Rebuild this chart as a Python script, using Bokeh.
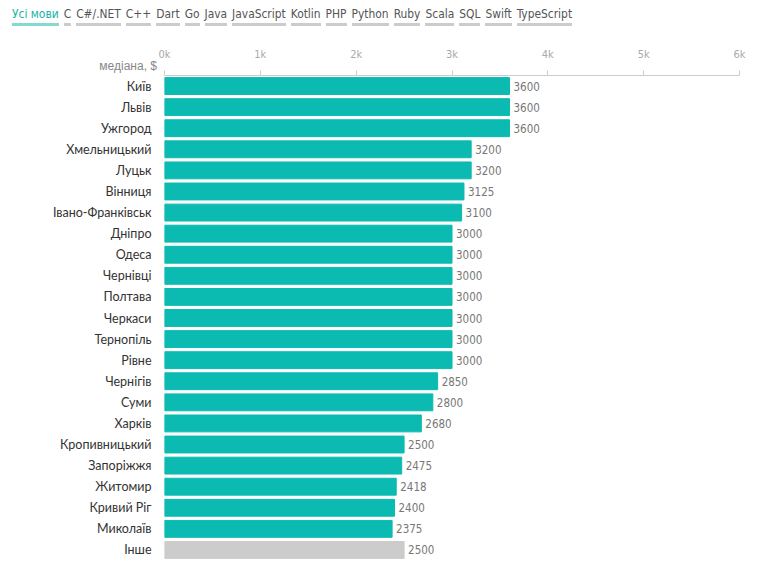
from bokeh.plotting import figure
from bokeh.models import (FactorRange, Range1d, FixedTicker, Div, ColumnDataSource)
from bokeh.layouts import column
from bokeh.core.properties import value
from bokeh.embed import file_html
from bokeh.resources import INLINE

languages = ["Усі мови", "C", "C#/.NET", "C++", "Dart", "Go", "Java", "JavaScript", "Kotlin",
             "PHP", "Python", "Ruby", "Scala", "SQL", "Swift", "TypeScript"]
cities = ["Київ", "Львів", "Ужгород", "Хмельницький", "Луцьк", "Вінниця", "Івано-Франківськ",
          "Дніпро", "Одеса", "Чернівці", "Полтава", "Черкаси", "Тернопіль", "Рівне", "Чернігів",
          "Суми", "Харків", "Кропивницький", "Запоріжжя", "Житомир", "Кривий Ріг", "Миколаїв", "Інше"]
salaries = [3600, 3600, 3600, 3200, 3200, 3125, 3100, 3000, 3000, 3000, 3000, 3000, 3000, 3000,
            2850, 2800, 2680, 2500, 2475, 2418, 2400, 2375, 2500]
tick_values = [0, 1000, 2000, 3000, 4000, 5000, 6000]
tick_labels = ["0k", "1k", "2k", "3k", "4k", "5k", "6k"]
axis_title = "медіана, $"

TEAL = "#0bbab0"
GREY = "#cccccc"
colors = [GREY if c == "Інше" else TEAL for c in cities]

COND = "DejaVu Sans Condensed"
spans = []
for i, lang in enumerate(languages):
    if i == 0:
        st = "color:#19b3a6;border-bottom:3px solid #86d9d0;"
    else:
        st = "color:#555555;border-bottom:3px solid #cccccc;"
    spans.append(f'<span style="{st}margin-right:5px;padding-bottom:2px;">{lang}</span>')
title_html = (f'<span style="position:absolute;left:0px;top:58px;width:157px;text-align:right;'
              f'font-family:\'Liberation Sans\',sans-serif;font-size:12px;color:#888888;">'
              f'{axis_title}</span>')
nav = Div(text="".join(spans) + title_html, width=757, height=38, margin=(0, 0, 0, 0),
          styles={"font-family": f"'{COND}', sans-serif", "font-size": "11.9px",
                  "padding-left": "12px", "padding-top": "6px", "white-space": "nowrap",
                  "overflow": "visible", "position": "relative", "z-index": "5"})

src = ColumnDataSource(dict(city=cities, salary=salaries, color=colors,
                            label=[str(v) for v in salaries]))

p = figure(width=757, height=527, output_backend="svg", toolbar_location=None,
           y_range=FactorRange(factors=cities[::-1], range_padding=0),
           x_range=Range1d(0, 6000), x_axis_location="above",
           min_border_left=164, min_border_right=18, min_border_top=37, min_border_bottom=5,
           outline_line_color=None)
p.margin = (0, 0, 0, 0)
p.grid.visible = False
p.background_fill_color = "white"
p.border_fill_alpha = 0

p.hbar(y="city", right="salary", left=0, height=0.8, color="color", source=src)
p.text(x="salary", y="city", text="label", source=src, x_offset=4, text_baseline="middle",
       text_align="left", text_font=value(COND), text_font_size="11.5px",
       text_color="#777777")

xa = p.xaxis[0]
xa.ticker = FixedTicker(ticks=tick_values)
xa.major_label_overrides = {t: l for t, l in zip(tick_values, tick_labels)}
xa.axis_line_color = "#cccccc"
xa.major_tick_line_color = "#cccccc"
xa.major_tick_out = 5
xa.major_tick_in = 0
xa.minor_tick_line_color = None
xa.major_label_standoff = 10
xa.major_label_text_font = COND
xa.major_label_text_font_size = "11px"
xa.major_label_text_color = "#aaaaaa"

ya = p.yaxis[0]
ya.axis_line_color = None
ya.major_tick_line_color = None
ya.minor_tick_line_color = None
ya.major_label_standoff = 7
ya.major_label_text_font = "Lato"
ya.major_label_text_font_size = "12.5px"
ya.major_label_text_color = "#333333"

layout = column(nav, p, spacing=0)
open("out.html", "w").write(file_html(layout, INLINE))
